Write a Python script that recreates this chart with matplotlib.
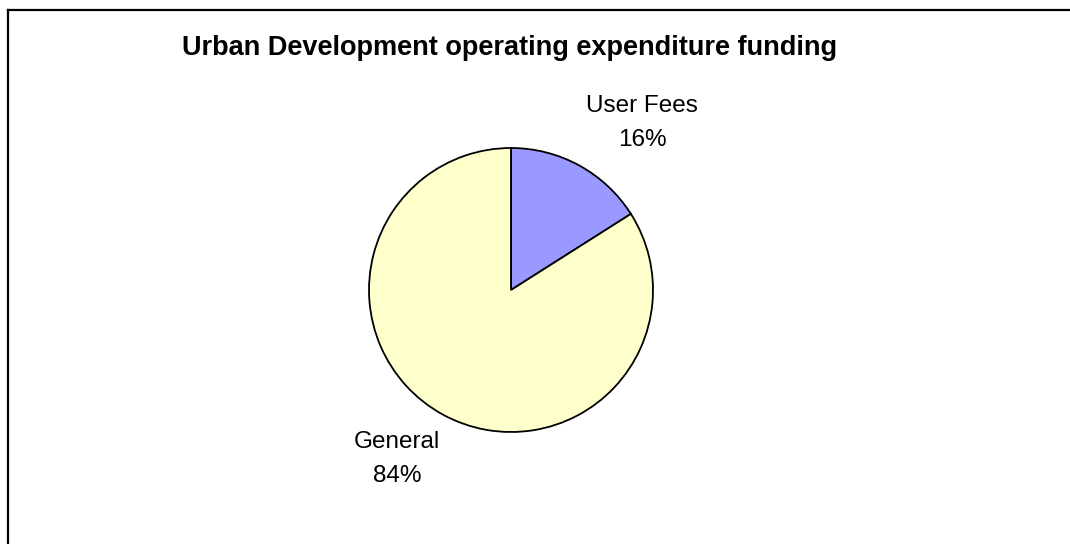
import matplotlib.pyplot as plt
from matplotlib.lines import Line2D

sources = ['User Fees', 'General']
shares = [16, 84]
colors = ['#9999FF', '#FFFFCC']
title = 'Urban Development operating expenditure funding'

W, H = 1070, 544
fig = plt.figure(figsize=(W / 100, H / 100), dpi=100)
ax = fig.add_axes([0, 0, 1, 1])

# pie in pixel coordinates (y measured from the bottom)
ax.pie(shares, colors=colors, startangle=90, counterclock=False,
       center=(511, H - 290), radius=142,
       wedgeprops=dict(edgecolor='black', linewidth=1.3))
ax.set_xlim(0, W)
ax.set_ylim(0, H)
ax.set_aspect('equal', adjustable='box')
ax.axis('off')

font = 'Liberation Sans'
fig.text(510 / W, 1 - 55 / H, title, ha='center', va='baseline',
         fontsize=19.5, fontweight='bold', family=font)

# data labels: name on one line, share below
label_pos = [(642, 112), (397, 448)]
for name, val, (x, y) in zip(sources, shares, label_pos):
    ax.text(x, H - y, name, ha='center', va='baseline', fontsize=17.5, family=font)
    ax.text(x, H - y - 34, f'{val}%', ha='center', va='baseline', fontsize=17.5, family=font)

# chart area border (top and left edges)
fig.add_artist(Line2D([8 / W, 1], [1 - 10 / H, 1 - 10 / H], color='black', lw=1.6))
fig.add_artist(Line2D([8 / W, 8 / W], [0, 1 - 10 / H], color='black', lw=1.6))

fig.savefig('out.png', dpi=100)
